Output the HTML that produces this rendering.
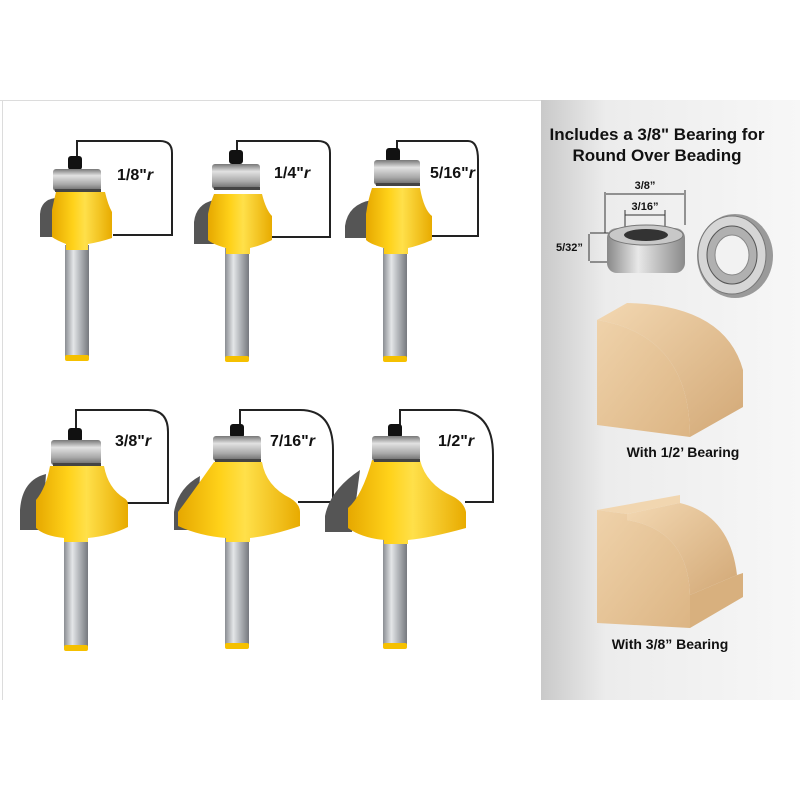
<!DOCTYPE html>
<html><head><meta charset="utf-8"><style>
html,body{margin:0;padding:0;background:#fff;}
svg{display:block}
text{font-family:"Liberation Sans",Arial,sans-serif;font-weight:bold;fill:#111}
</style></head><body>
<svg width="800" height="800" viewBox="0 0 800 800" xmlns="http://www.w3.org/2000/svg">
<defs>
<linearGradient id="shank" x1="0" x2="1" y1="0" y2="0">
<stop offset="0" stop-color="#8a8d92"/><stop offset="0.35" stop-color="#e4e6e8"/><stop offset="0.6" stop-color="#b8bbbf"/><stop offset="1" stop-color="#76797e"/></linearGradient>
<linearGradient id="bear" x1="0" x2="0" y1="0" y2="1">
<stop offset="0" stop-color="#777"/><stop offset="0.3" stop-color="#e2e2e2"/><stop offset="0.7" stop-color="#a8a8a8"/><stop offset="1" stop-color="#666"/></linearGradient>
<linearGradient id="yel" x1="0" x2="1" y1="0" y2="0">
<stop offset="0" stop-color="#e6a800"/><stop offset="0.35" stop-color="#ffd21a"/><stop offset="0.55" stop-color="#ffe04a"/><stop offset="1" stop-color="#e8ab00"/></linearGradient>
<linearGradient id="panel" x1="0" x2="1" y1="0" y2="0">
<stop offset="0" stop-color="#c9c9c9"/><stop offset="0.25" stop-color="#ececec"/><stop offset="1" stop-color="#f7f7f7"/></linearGradient>
<linearGradient id="wood" x1="0" x2="1" y1="0" y2="1">
<stop offset="0" stop-color="#efd2aa"/><stop offset="1" stop-color="#dcb584"/></linearGradient>
<linearGradient id="wood2" x1="0" x2="1" y1="0" y2="1">
<stop offset="0" stop-color="#f3d8b2"/><stop offset="1" stop-color="#d2a876"/></linearGradient>
<linearGradient id="ring" x1="0" x2="1" y1="0" y2="0">
<stop offset="0" stop-color="#888"/><stop offset="0.4" stop-color="#e8e8e8"/><stop offset="1" stop-color="#8a8a8a"/></linearGradient>
</defs>
<rect x="0" y="0" width="800" height="800" fill="#fff"/>
<line x1="0" y1="100.5" x2="541" y2="100.5" stroke="#dcdcdc"/>
<line x1="2.5" y1="100" x2="2.5" y2="700" stroke="#dcdcdc"/>
<rect x="541" y="100" width="259" height="600" fill="url(#panel)"/>

<g fill="none" stroke="#222" stroke-width="2">
<path d="M77 158 V141 H160 Q172 141 172 153 V235 H113"/>
<path d="M237 158 V141 H318 Q330 141 330 153 V237 H268"/>
<path d="M397 158 V141 H468 Q478 141 478 160 V236 H420"/>
<path d="M76 428 V410 H148 Q168 410 168 432 V503 H122"/>
<path d="M240 428 V410 H300 Q333 410 333 450 V502 H298"/>
<path d="M400 428 V410 H455 Q493 410 493 455 V502 H465"/>
</g>
<text x="117" y="180" font-size="16">1/8"<tspan font-style="italic">r</tspan></text>
<text x="274" y="178" font-size="16">1/4"<tspan font-style="italic">r</tspan></text>
<text x="430" y="178" font-size="16">5/16"<tspan font-style="italic">r</tspan></text>
<text x="115" y="446" font-size="16">3/8"<tspan font-style="italic">r</tspan></text>
<text x="270" y="446" font-size="16">7/16"<tspan font-style="italic">r</tspan></text>
<text x="438" y="446" font-size="16">1/2"<tspan font-style="italic">r</tspan></text>

<g>
<rect x="65" y="245" width="24" height="112" fill="url(#shank)"/><rect x="65" y="355" width="24" height="6" rx="2" fill="#f5c000"/>
<path d="M55 198 Q41 200 40 214 V237 H56 Z" fill="#555"/>
<path d="M56 192 H105 Q108 205 112 212 V238 Q100 242 88 244 V250 H66 V244 Q56 240 52 237 V210 Q54 200 56 192Z" fill="url(#yel)"/>
<rect x="68" y="156" width="14" height="14" rx="3" fill="#111"/>
<rect x="53" y="169" width="48" height="22" rx="3" fill="url(#bear)"/><rect x="55" y="189" width="46" height="3" fill="#444"/>
</g>
<g>
<rect x="225" y="248" width="24" height="110" fill="url(#shank)"/><rect x="225" y="356" width="24" height="6" rx="2" fill="#f5c000"/>
<path d="M214 200 Q196 204 194 222 V244 H214 Z" fill="#555"/>
<path d="M214 194 H262 Q266 210 272 216 V240 Q260 246 250 248 V254 H226 V248 Q212 244 208 240 V214 Q210 204 214 194Z" fill="url(#yel)"/>
<rect x="229" y="150" width="14" height="14" rx="3" fill="#111"/>
<rect x="212" y="164" width="48" height="25" rx="3" fill="url(#bear)"/><rect x="214" y="187" width="46" height="3" fill="#444"/>
</g>
<g>
<rect x="383" y="248" width="24" height="110" fill="url(#shank)"/><rect x="383" y="356" width="24" height="6" rx="2" fill="#f5c000"/>
<path d="M372 200 Q348 204 345 226 V238 H370 Z" fill="#555"/>
<path d="M372 188 H420 Q424 210 432 216 V240 Q418 246 408 248 V254 H384 V248 Q370 244 366 240 V214 Q368 200 372 188Z" fill="url(#yel)"/>
<rect x="386" y="148" width="14" height="14" rx="3" fill="#111"/>
<rect x="374" y="160" width="46" height="25" rx="3" fill="url(#bear)"/><rect x="376" y="183" width="44" height="3" fill="#444"/>
</g>
<g>
<rect x="64" y="535" width="24" height="112" fill="url(#shank)"/><rect x="64" y="645" width="24" height="6" rx="2" fill="#f5c000"/>
<path d="M46 474 Q22 480 20 510 V530 H42 Z" fill="#555"/>
<path d="M50 466 H104 Q108 488 124 498 Q128 500 128 505 V527 Q110 536 88 538 V542 H64 V538 Q44 536 36 528 V500 Q46 488 50 466Z" fill="url(#yel)"/>
<rect x="68" y="428" width="14" height="14" rx="3" fill="#111"/>
<rect x="51" y="440" width="50" height="25" rx="3" fill="url(#bear)"/><rect x="53" y="463" width="48" height="3" fill="#444"/>
</g>
<g>
<rect x="225" y="535" width="24" height="110" fill="url(#shank)"/><rect x="225" y="643" width="24" height="6" rx="2" fill="#f5c000"/>
<path d="M200 476 Q178 488 174 512 V530 H196 Z" fill="#555"/>
<path d="M214 462 H262 Q266 486 290 498 Q300 504 300 512 V526 Q270 536 250 538 V542 H226 V538 Q200 536 178 526 V512 Q190 496 214 462Z" fill="url(#yel)"/>
<rect x="230" y="424" width="14" height="14" rx="3" fill="#111"/>
<rect x="213" y="436" width="48" height="25" rx="3" fill="url(#bear)"/><rect x="215" y="459" width="46" height="3" fill="#444"/>
</g>
<g>
<rect x="383" y="535" width="24" height="110" fill="url(#shank)"/><rect x="383" y="643" width="24" height="6" rx="2" fill="#f5c000"/>
<path d="M360 470 Q330 490 325 516 V532 H352 Z" fill="#555"/>
<path d="M372 460 H420 Q426 484 452 496 Q464 502 466 512 V528 Q430 538 408 540 V544 H384 V540 Q362 538 348 528 V508 Q362 496 372 460Z" fill="url(#yel)"/>
<rect x="388" y="424" width="14" height="14" rx="3" fill="#111"/>
<rect x="372" y="436" width="48" height="25" rx="3" fill="url(#bear)"/><rect x="374" y="459" width="46" height="3" fill="#444"/>
</g>

<text x="657" y="140" font-size="17" text-anchor="middle">Includes a 3/8" Bearing for</text>
<text x="657" y="161" font-size="17" text-anchor="middle">Round Over Beading</text>
<g stroke="#333" stroke-width="1" fill="none">
<line x1="605" y1="192" x2="605" y2="233"/><line x1="685" y1="190" x2="685" y2="225"/>
<line x1="606" y1="194" x2="684" y2="194"/>
<line x1="625" y1="215" x2="665" y2="215"/><line x1="625" y1="210" x2="625" y2="230"/><line x1="665" y1="210" x2="665" y2="230"/>
<line x1="590" y1="233" x2="610" y2="233"/><line x1="590" y1="262" x2="610" y2="262"/><line x1="589" y1="234" x2="589" y2="261"/>
</g>
<text x="645" y="189" font-size="11" text-anchor="middle">3/8”</text>
<text x="645" y="210" font-size="11" text-anchor="middle">3/16”</text>
<text x="556" y="251" font-size="11">5/32”</text>
<rect x="607" y="228" width="78" height="45" rx="10" fill="url(#ring)"/>
<ellipse cx="646" cy="235" rx="37" ry="10" fill="#c8c8c8" stroke="#777"/>
<ellipse cx="646" cy="235" rx="22" ry="6" fill="#333"/>
<ellipse cx="735" cy="256" rx="38" ry="42" fill="#9a9a9a"/>
<ellipse cx="732" cy="255" rx="34" ry="39" fill="#d6d6d6" stroke="#777"/>
<ellipse cx="732" cy="255" rx="25" ry="29" fill="#b0b0b0" stroke="#555"/>
<ellipse cx="732" cy="255" rx="17" ry="20" fill="#f2f2f2" stroke="#888"/>

<!-- wood 1 -->
<path d="M597 320 L627 303 Q725 305 743 370 V407 L690 437 Q690 335 597 320Z" fill="url(#wood2)"/>
<path d="M597 320 Q690 335 690 437 L597 425Z" fill="url(#wood)"/>
<text x="683" y="457" font-size="14" text-anchor="middle">With 1/2’ Bearing</text>
<!-- wood 2 -->
<path d="M597 510 L680 495 V503 L627 514 Z" fill="#f1d6b0"/>
<path d="M627 514 L680 503 Q730 515 737 575 L690 595 Q688 530 627 520Z" fill="url(#wood2)"/>
<path d="M690 595 L737 575 L743 573 V597 L690 628Z" fill="#d8b07e"/>
<path d="M597 510 L627 514 V520 Q688 530 690 595 V628 L597 623Z" fill="url(#wood)"/>
<text x="670" y="649" font-size="14" text-anchor="middle">With 3/8” Bearing</text>
</svg>
</body></html>
